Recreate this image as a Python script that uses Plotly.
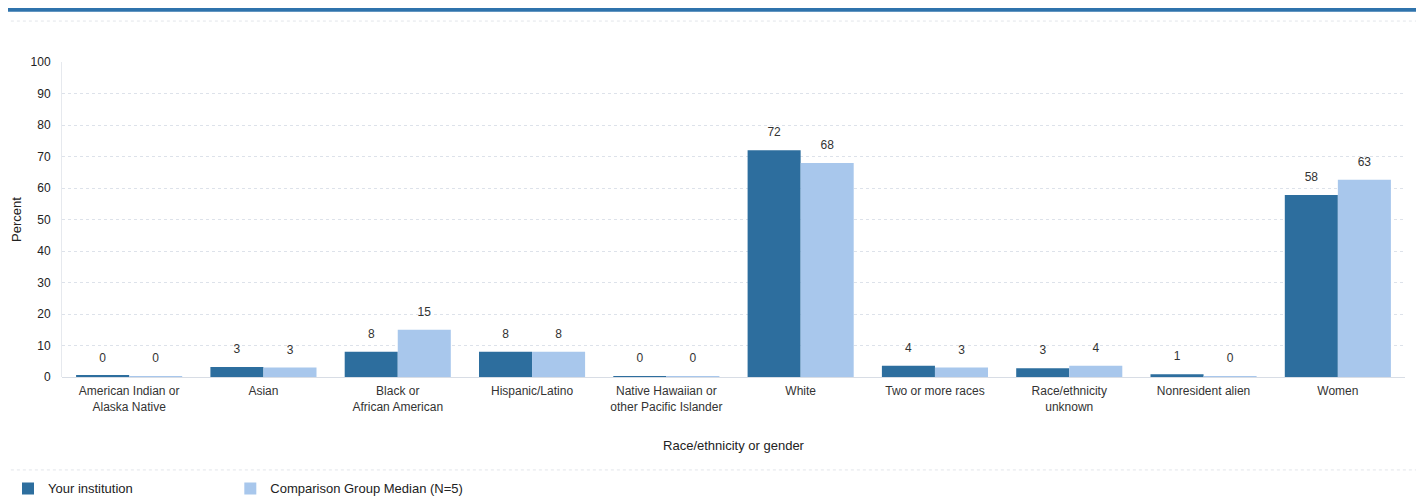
import plotly.graph_objects as go

categories = [
    "American Indian or<br>Alaska Native", "Asian", "Black or<br>African American",
    "Hispanic/Latino", "Native Hawaiian or<br>other Pacific Islander", "White",
    "Two or more races", "Race/ethnicity<br>unknown", "Nonresident alien", "Women",
]
your_institution = [0.4, 3.2, 8.0, 8.0, 0.3, 72.0, 3.6, 2.8, 0.9, 57.8]
comparison_median = [0.3, 3.0, 15.0, 8.0, 0.2, 67.9, 3.0, 3.6, 0.3, 62.6]
your_labels = ["0", "3", "8", "8", "0", "72", "4", "3", "1", "58"]
comp_labels = ["0", "3", "15", "8", "0", "68", "3", "4", "0", "63"]
y_ticks = [0, 10, 20, 30, 40, 50, 60, 70, 80, 90, 100]

dark = "#2d6e9e"
light = "#a8c7ec"
font_family = "Liberation Sans, Arial, sans-serif"

fig = go.Figure()
fig.add_trace(go.Bar(
    x=categories, y=your_institution, name="Your institution",
    marker=dict(color=dark, line=dict(width=0)), offsetgroup="a",
    legend="legend",
))
fig.add_trace(go.Bar(
    x=categories, y=comparison_median, name="Comparison Group Median (N=5)",
    marker=dict(color=light, line=dict(width=0)), offsetgroup="b",
    legend="legend2",
))
for vals, labels, grp in [(your_institution, your_labels, "a"), (comparison_median, comp_labels, "b")]:
    fig.add_trace(go.Scatter(
        x=categories, y=vals, text=labels, mode="markers+text",
        marker=dict(size=16, color="rgba(0,0,0,0)", line=dict(width=0)),
        textposition="top center", offsetgroup=grp, showlegend=False, cliponaxis=False,
        textfont=dict(size=12, color="#333333"), hoverinfo="skip",
    ))

legend_common = dict(
    orientation="h", xref="container", yref="container", y=0.052, yanchor="top",
    xanchor="left", font=dict(size=13, color="#222222"), itemsizing="constant",
    bgcolor="rgba(0,0,0,0)",
)

fig.update_layout(
    width=1416, height=491,
    margin=dict(l=54, r=19, t=54, b=122, autoexpand=False),
    paper_bgcolor="white", plot_bgcolor="white",
    font=dict(family=font_family, size=12, color="#333333"),
    barmode="group", bargap=0.21, bargroupgap=0,
    scattermode="group", scattergap=0.21,
    showlegend=True,
    legend=dict(x=-0.012, **legend_common),
    legend2=dict(x=0.157, **legend_common),
    xaxis=dict(
        automargin=False,
        title=dict(text="Race/ethnicity or gender", font=dict(size=13, color="#222222"), standoff=27),
        tickfont=dict(size=12, color="#333333"),
        showgrid=False, showline=False, ticks="outside", ticklen=3, tickcolor="rgba(0,0,0,0)",
    ),
    yaxis=dict(
        automargin=False,
        title=dict(text="Percent", font=dict(size=13, color="#222222"), standoff=6),
        range=[0, 100], tickvals=y_ticks,
        tickfont=dict(size=12, color="#222222"),
        ticks="outside", ticklen=8, tickcolor="rgba(0,0,0,0)",
        showgrid=True, gridcolor="#dde2ea", griddash="dot", gridwidth=1,
        zeroline=True, zerolinecolor="#d8dde5", zerolinewidth=1,
        showline=True, linecolor="#e6e9ee", linewidth=1,
    ),
    shapes=[
        dict(type="line", xref="paper", yref="paper", x0=-0.047, x1=1.015,
             y0=1.166, y1=1.166, line=dict(color="#2f73ac", width=4)),
        dict(type="line", xref="paper", yref="paper", x0=-0.047, x1=1.015,
             y0=1.13, y1=1.13, line=dict(color="#e2e5ea", width=1, dash="dot")),
        dict(type="line", xref="paper", yref="paper", x0=-0.047, x1=1.015,
             y0=-0.295, y1=-0.295, line=dict(color="#e2e5ea", width=1, dash="dot")),
    ],
)

fig.write_html("out.html")
